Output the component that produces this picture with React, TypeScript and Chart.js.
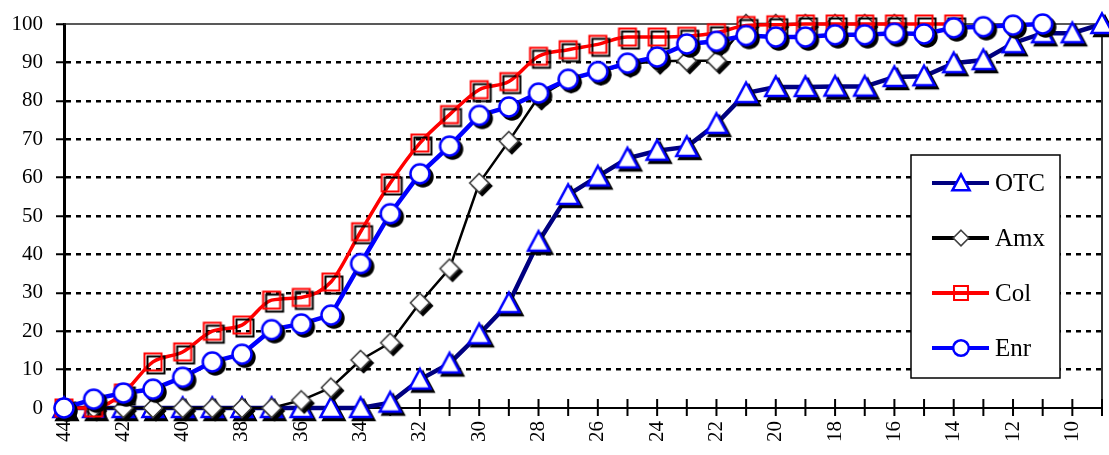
import React, { useEffect, useRef } from 'react';
import { Chart, registerables } from 'chart.js';

Chart.register(...registerables);

const categories = ['44','43','42','41','40','39','38','37','36','35','34','33','32','31','30','29','28','27','26','25','24','23','22','21','20','19','18','17','16','15','14','13','12','11','10','9'];

const otcValues = [0,0,0,0,0,0,0,0,0,0,0,1.4,7.4,11.6,19.2,27.3,43.3,55.5,60.3,65,67,68,74,82,83.6,83.6,83.7,83.7,86.2,86.4,89.8,90.6,95,97.6,97.6,100];
const amxValues = [0,0,0,0,0,0,0,0,2,5.3,12.5,17,27.4,36.3,58.6,69.5,81,85.5,87.5,89.5,90.3,90.4,90.4,100,100,100,100,100,100,null,null,null,null,null,null,null];
const colValues = [0,0,3.9,12,14.6,20,21.6,28.1,28.8,32.8,45.9,58.6,69,76.4,82.9,85,91.6,93.3,94.7,96.6,96.6,96.8,97.7,99.6,99.8,100,100,100,100,100,100,null,null,null,null,null];
const enrValues = [0,2.3,3.9,4.9,8,12,14,20.4,21.9,24.2,37.6,50.6,61,68.2,76.2,78.4,82,85.6,87.6,89.8,91.4,94.8,95.5,97,96.6,96.6,97.2,97.2,97.6,97.4,99,99.3,99.7,100,null,null];

const seriesNames = ['OTC', 'Amx', 'Col', 'Enr'];
const yTickValues = [0, 10, 20, 30, 40, 50, 60, 70, 80, 90, 100];

type Kind = 'triangle' | 'diamond' | 'square' | 'circle';
interface MarkerSpec { kind: Kind; size: number; fill: string | null; stroke: string; lw: number; line: string; lineW: number; }

const markerSpecs: MarkerSpec[] = [
  { kind: 'triangle', size: 10.5, fill: '#ffffff', stroke: '#0000ff', lw: 2.5, line: '#000080', lineW: 4.5 },
  { kind: 'diamond', size: 9.5, fill: '#ffffff', stroke: '#404040', lw: 1.6, line: '#000000', lineW: 2.5 },
  { kind: 'square', size: 8.5, fill: null, stroke: '#ff0000', lw: 2, line: '#ff0000', lineW: 3.5 },
  { kind: 'circle', size: 9.5, fill: '#ffffff', stroke: '#0000ff', lw: 2.5, line: '#0000ff', lineW: 4.5 },
];

const FONT = '"Liberation Serif", "Times New Roman", serif';

function shapePath(ctx: CanvasRenderingContext2D, kind: Kind, r: number) {
  ctx.beginPath();
  if (kind === 'circle') {
    ctx.arc(0, 0, r, 0, Math.PI * 2);
  } else if (kind === 'square') {
    ctx.rect(-r, -r, 2 * r, 2 * r);
  } else if (kind === 'diamond') {
    ctx.moveTo(0, -r); ctx.lineTo(r, 0); ctx.lineTo(0, r); ctx.lineTo(-r, 0); ctx.closePath();
  } else {
    ctx.moveTo(0, -r); ctx.lineTo(r, r * 0.85); ctx.lineTo(-r, r * 0.85); ctx.closePath();
  }
}

function drawMarker(ctx: CanvasRenderingContext2D, spec: MarkerSpec, x: number, y: number, scale: number, shadow: boolean) {
  const r = spec.size * scale;
  ctx.save();
  if (shadow) {
    ctx.save();
    ctx.translate(x + 3, y + 3);
    shapePath(ctx, spec.kind, r);
    if (spec.fill) { ctx.fillStyle = '#000'; ctx.fill(); }
    ctx.strokeStyle = '#000'; ctx.lineWidth = spec.lw; ctx.stroke();
    ctx.restore();
  }
  ctx.translate(x, y);
  shapePath(ctx, spec.kind, r);
  if (spec.fill) { ctx.fillStyle = spec.fill; ctx.fill(); }
  ctx.strokeStyle = spec.stroke; ctx.lineWidth = spec.lw; ctx.stroke();
  ctx.restore();
}

function makeMarkerImage(spec: MarkerSpec): HTMLCanvasElement {
  const c = document.createElement('canvas');
  c.width = 40; c.height = 40;
  const ctx = c.getContext('2d')!;
  drawMarker(ctx, spec, 20, 20, 1, true);
  return c;
}

const framePlugin = {
  id: 'frame',
  beforeDatasetsDraw(chart: any) {
    const { ctx, chartArea: a, scales } = chart;
    ctx.save();
    ctx.setLineDash([]);
    ctx.strokeStyle = '#222';
    ctx.lineWidth = 1.3;
    ctx.beginPath(); ctx.moveTo(a.left, a.top); ctx.lineTo(a.right, a.top); ctx.stroke();
    ctx.strokeStyle = '#000';
    ctx.lineWidth = 1.6;
    ctx.beginPath(); ctx.moveTo(a.right, a.top); ctx.lineTo(a.right, a.bottom); ctx.stroke();
    const xs = scales.x;
    ctx.lineWidth = 2;
    ctx.beginPath();
    for (let i = 1; i < categories.length; i++) {
      const px = xs.getPixelForValue(i);
      ctx.moveTo(px, a.bottom - 9);
      ctx.lineTo(px, a.bottom + 8);
    }
    ctx.stroke();
    ctx.restore();
  },
};

const legendPlugin = {
  id: 'customLegend',
  afterDatasetsDraw(chart: any) {
    const ctx: CanvasRenderingContext2D = chart.ctx;
    ctx.save();
    ctx.setLineDash([]);
    ctx.fillStyle = '#fff';
    ctx.fillRect(911, 155, 149, 223);
    ctx.strokeStyle = '#000';
    ctx.lineWidth = 1.5;
    ctx.strokeRect(911, 155, 149, 223);
    seriesNames.forEach((name, i) => {
      const spec = markerSpecs[i];
      const y = 183 + i * 55;
      ctx.strokeStyle = spec.line;
      ctx.lineWidth = 4;
      ctx.beginPath(); ctx.moveTo(932, y); ctx.lineTo(989, y); ctx.stroke();
      drawMarker(ctx, spec, 961, y, 0.82, false);
      ctx.fillStyle = '#000';
      ctx.font = `25px ${FONT}`;
      ctx.textAlign = 'left';
      ctx.textBaseline = 'middle';
      ctx.fillText(name, 995, y + 1);
    });
    ctx.restore();
  },
};

export default function App() {
  const ref = useRef<HTMLCanvasElement | null>(null);

  useEffect(() => {
    if (!ref.current) return;
    const images = markerSpecs.map(makeMarkerImage);
    const seriesData = [otcValues, amxValues, colValues, enrValues];
    const datasets = seriesNames.map((name, i) => ({
      label: name,
      data: seriesData[i],
      borderColor: markerSpecs[i].line,
      backgroundColor: markerSpecs[i].line,
      borderWidth: markerSpecs[i].lineW,
      pointStyle: images[i],
      pointRadius: 10,
      pointHoverRadius: 10,
      clip: false as any,
      order: 4 - i,
      tension: 0,
      cubicInterpolationMode: (name === 'Col' ? 'monotone' : 'default') as any,
      spanGaps: false,
    }));

    const chart = new Chart(ref.current, {
      type: 'line',
      data: { labels: categories, datasets },
      plugins: [framePlugin, legendPlugin],
      options: {
        animation: false,
        responsive: true,
        maintainAspectRatio: false,
        events: [],
        layout: { autoPadding: false, padding: { top: 24, right: 7, left: 0, bottom: 0 } },
        plugins: { legend: { display: false }, tooltip: { enabled: false }, title: { display: false } },
        scales: {
          x: {
            type: 'category',
            offset: false,
            afterFit: (s: any) => { s.height = 47; s.paddingLeft = 0; s.paddingRight = 0; },
            grid: { display: true, drawOnChartArea: false, drawTicks: false },
            border: { display: true, color: '#000', width: 2 },
            ticks: {
              autoSkip: false,
              maxRotation: 90,
              minRotation: 90,
              padding: 13,
              color: '#000',
              font: { family: FONT, size: 21 },
              callback: (_v: any, i: number) => (Number(categories[i]) % 2 === 0 ? categories[i] : ''),
            },
          },
          y: {
            min: 0,
            max: 100,
            afterFit: (s: any) => { s.width = 64; s.paddingTop = 0; s.paddingBottom = 0; },
            afterBuildTicks: (s: any) => { s.ticks = yTickValues.map((v) => ({ value: v })); },
            grid: {
              color: (c: any) => (c.tick && (c.tick.value === 0 || c.tick.value === 100) ? 'rgba(0,0,0,0)' : '#000'),
              lineWidth: 2.5,
              drawTicks: true,
              tickLength: 8,
              tickColor: '#000',
              tickWidth: 2,
              tickBorderDash: [],
            } as any,
            border: { display: true, color: '#000', width: 3, dash: [5, 5] },
            ticks: {
              stepSize: 10,
              padding: 13,
              color: '#000',
              font: { family: FONT, size: 21 },
            },
          },
        },
      },
    });
    return () => chart.destroy();
  }, []);

  return (
    <div style={{ position: 'fixed', left: 0, top: 0, width: 1109, height: 455, background: '#fff' }}>
      <canvas ref={ref} />
    </div>
  );
}
